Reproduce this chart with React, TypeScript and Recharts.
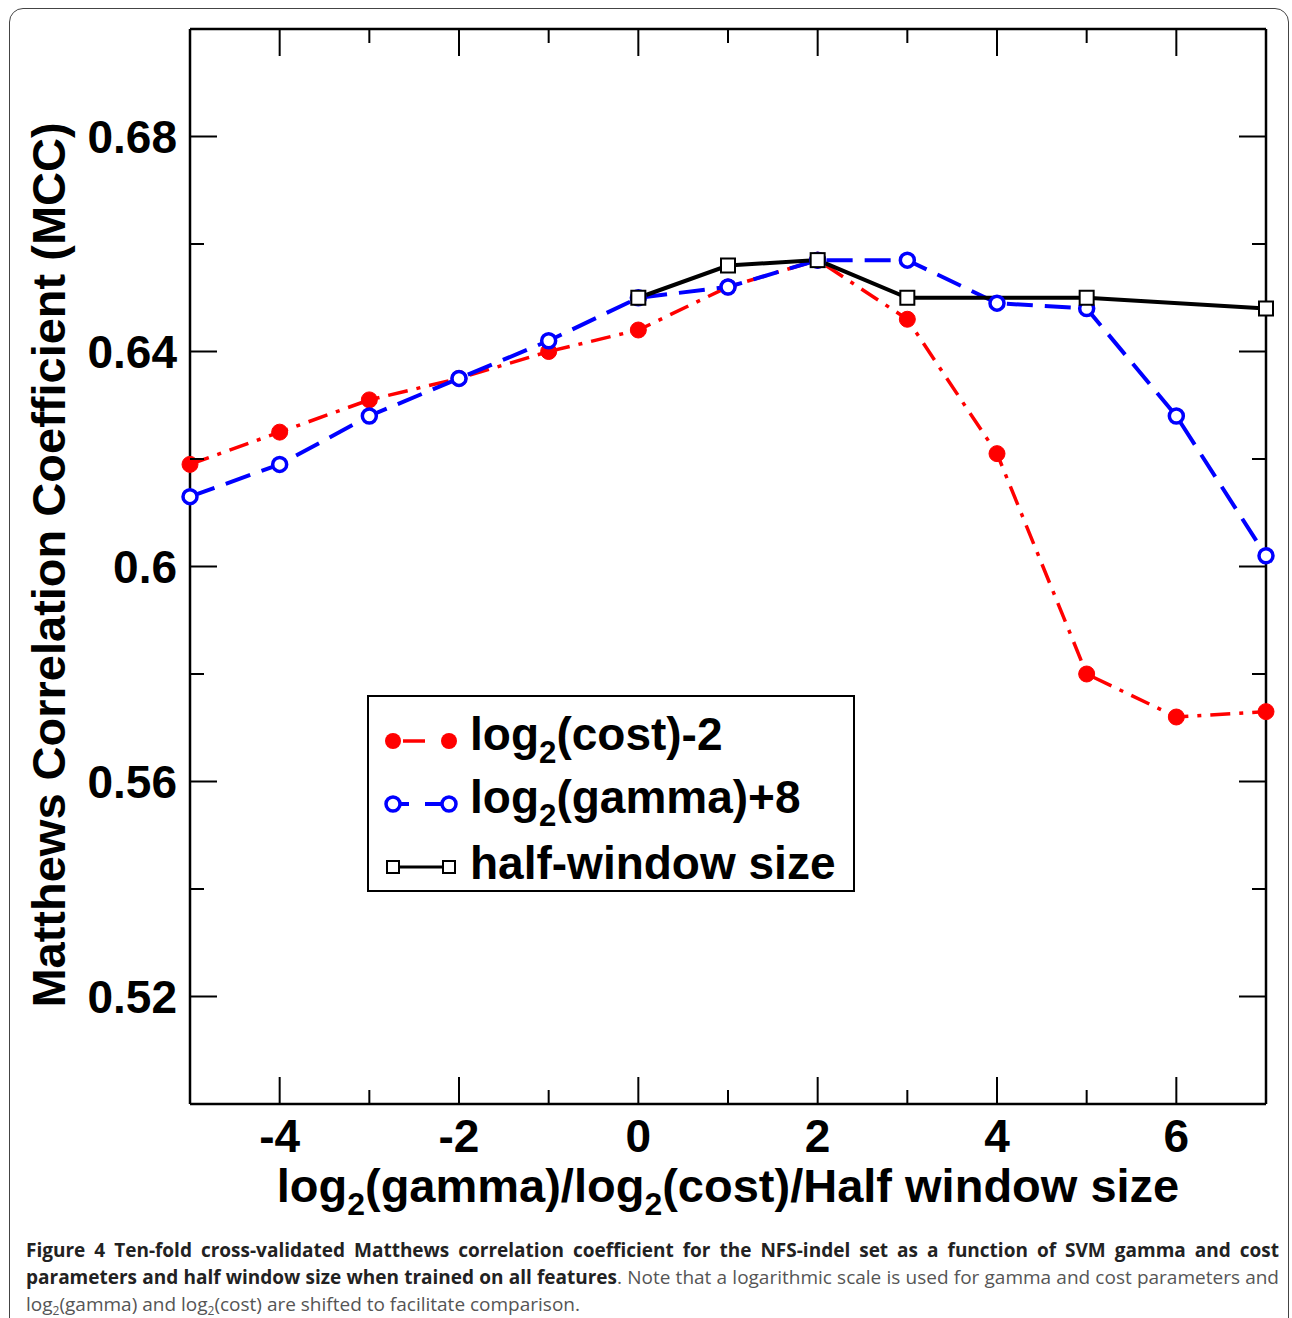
import React from "react";
import { LineChart, Line, XAxis, YAxis, Legend } from "recharts";

/* ── data ── */
const xValues = [-5, -4, -3, -2, -1, 0, 1, 2, 3, 4, 5, 6, 7];
const costMcc = [0.619, 0.625, 0.631, 0.635, 0.64, 0.644, 0.652, 0.657, 0.646, 0.621, 0.58, 0.572, 0.573];
const gammaMcc = [0.613, 0.619, 0.628, 0.635, 0.642, 0.65, 0.652, 0.657, 0.657, 0.649, 0.648, 0.628, 0.602];
const halfWindowMcc = [null, null, null, null, null, 0.65, 0.656, 0.657, 0.65, null, 0.65, null, 0.648];

const xTicks = [-4, -3, -2, -1, 0, 1, 2, 3, 4, 5, 6];
const yTicks = [0.52, 0.54, 0.56, 0.58, 0.6, 0.62, 0.64, 0.66, 0.68];

const data = xValues.map((x, i) => ({
  x,
  cost: costMcc[i],
  gamma: gammaMcc[i],
  half: halfWindowMcc[i],
}));

/* ── look ── */
const RED = "#ff0000";
const BLUE = "#0000ff";
const FONT = '"Liberation Sans", Arial, Helvetica, sans-serif';
const MAJOR = 27;
const MINOR = 14;

const XTick = ({ x, y, payload, top }: any) => {
  const v = payload.value;
  const major = v % 2 === 0;
  const len = major ? MAJOR : MINOR;
  return (
    <g>
      <line x1={x} x2={x} y1={y} y2={top ? y + len : y - len} stroke="#000" strokeWidth={2} />
      {!top && major && (
        <text x={x} y={y + 48} textAnchor="middle" fontFamily={FONT} fontWeight="bold" fontSize={46} fill="#000">
          {v}
        </text>
      )}
    </g>
  );
};

const YTick = ({ x, y, payload, right }: any) => {
  const v = payload.value;
  const major = Math.round(v * 100) % 4 === 0;
  const len = major ? MAJOR : MINOR;
  return (
    <g>
      <line x1={x} x2={right ? x - len : x + len} y1={y} y2={y} stroke="#000" strokeWidth={2} />
      {!right && major && (
        <text x={x - 13} y={y + 16} textAnchor="end" fontFamily={FONT} fontWeight="bold" fontSize={46} fill="#000">
          {Number(v.toFixed(2)).toString()}
        </text>
      )}
    </g>
  );
};

const SquareDot = (p: any) => {
  if (p.cx == null || p.cy == null || p.value == null) return <g key={p.index} />;
  return (
    <rect key={p.index} x={p.cx - 7} y={p.cy - 7} width={14} height={14} fill="#fff" stroke="#000" strokeWidth={2} />
  );
};

const Sub = ({ children }: any) => (
  <span style={{ fontSize: "0.68em", position: "relative", top: "0.42em" }}>{children}</span>
);

const legendRows = [
  { key: "cost", label: <>log<Sub>2</Sub>(cost)-2</> },
  { key: "gamma", label: <>log<Sub>2</Sub>(gamma)+8</> },
  { key: "half", label: <>half-window size</> },
];

const Sample = ({ k }: any) => (
  <svg width={96} height={30} style={{ display: "block" }}>
    {k === "cost" && (
      <>
        <line x1={34} x2={56} y1={15} y2={15} stroke={RED} strokeWidth={3.5} />
        <circle cx={24} cy={15} r={8} fill={RED} />
        <circle cx={80} cy={15} r={8} fill={RED} />
      </>
    )}
    {k === "gamma" && (
      <>
        <line x1={24} x2={40} y1={15} y2={15} stroke={BLUE} strokeWidth={4} />
        <line x1={56} x2={80} y1={15} y2={15} stroke={BLUE} strokeWidth={4} />
        <circle cx={24} cy={15} r={7} fill="#fff" stroke={BLUE} strokeWidth={3.5} />
        <circle cx={80} cy={15} r={7} fill="#fff" stroke={BLUE} strokeWidth={3.5} />
      </>
    )}
    {k === "half" && (
      <>
        <line x1={24} x2={80} y1={15} y2={15} stroke="#000" strokeWidth={3} />
        <rect x={18} y={9} width={12} height={12} fill="#fff" stroke="#000" strokeWidth={2} />
        <rect x={74} y={9} width={12} height={12} fill="#fff" stroke="#000" strokeWidth={2} />
      </>
    )}
  </svg>
);

const LegendBox = () => (
  <div
    style={{
      width: 488,
      height: 197,
      border: "2px solid #000",
      background: "#fff",
      fontFamily: FONT,
      fontWeight: "bold",
      fontSize: 46,
      color: "#000",
      paddingTop: 8,
      boxSizing: "border-box",
    }}
  >
    {legendRows.map((r) => (
      <div key={r.key} style={{ display: "flex", alignItems: "center", height: 63, lineHeight: "46px" }}>
        <div style={{ width: 101, flex: "none", position: "relative", top: 4 }}>
          <Sample k={r.key} />
        </div>
        <div style={{ whiteSpace: "nowrap" }}>{r.label}</div>
      </div>
    ))}
  </div>
);

const CapSub = ({ children }: any) => (
  <span style={{ fontSize: 12, position: "relative", top: 4 }}>{children}</span>
);

export default function App() {
  return (
    <div style={{ position: "absolute", left: 0, top: 0, width: 1292, height: 1318, overflow: "hidden", background: "#fff" }}>
      {/* figure frame */}
      <div
        style={{
          position: "absolute",
          left: 9,
          top: 8,
          width: 1280,
          height: 1360,
          border: "1.5px solid #444",
          borderRadius: 14,
          boxSizing: "border-box",
        }}
      />

      <div style={{ position: "absolute", left: 0, top: 0 }}>
        <LineChart
          width={1292}
          height={1230}
          data={data}
          margin={{ top: 28, right: 25, bottom: 125, left: 189 }}
        >
          <XAxis
            dataKey="x"
            type="number"
            domain={[-5, 7]}
            ticks={xTicks}
            interval={0}
            height={1}
            tickSize={0}
            tickMargin={0}
            tickLine={false}
            axisLine={{ stroke: "#000", strokeWidth: 2.5 }}
            tick={<XTick />}
          />
          <XAxis
            xAxisId="top"
            orientation="top"
            dataKey="x"
            type="number"
            domain={[-5, 7]}
            ticks={xTicks}
            interval={0}
            height={1}
            tickSize={0}
            tickMargin={0}
            tickLine={false}
            axisLine={{ stroke: "#000", strokeWidth: 2.5 }}
            tick={<XTick top />}
          />
          <YAxis
            type="number"
            domain={[0.5, 0.7]}
            ticks={yTicks}
            interval={0}
            width={1}
            tickSize={0}
            tickMargin={0}
            tickLine={false}
            allowDataOverflow
            axisLine={{ stroke: "#000", strokeWidth: 2.5 }}
            tick={<YTick />}
          />
          <YAxis
            yAxisId="right"
            orientation="right"
            type="number"
            domain={[0.5, 0.7]}
            ticks={yTicks}
            interval={0}
            width={1}
            tickSize={0}
            tickMargin={0}
            tickLine={false}
            allowDataOverflow
            axisLine={{ stroke: "#000", strokeWidth: 2.5 }}
            tick={<YTick right />}
          />
          <Legend
            layout="vertical"
            align="center"
            verticalAlign="middle"
            content={<LegendBox />}
            wrapperStyle={{ left: 367, top: 695, width: 488, height: 197, bottom: "auto" }}
          />
          <Line
            dataKey="cost"
            type="linear"
            stroke={RED}
            strokeWidth={3.5}
            strokeDasharray="20 9 4 9"
            dot={{ r: 8, fill: RED, stroke: RED, strokeWidth: 1, strokeDasharray: "" }}
            isAnimationActive={false}
          />
          <Line
            dataKey="gamma"
            type="linear"
            stroke={BLUE}
            strokeWidth={4}
            strokeDasharray="26 12"
            dot={{ r: 7, fill: "#fff", stroke: BLUE, strokeWidth: 3.5, strokeDasharray: "" }}
            isAnimationActive={false}
          />
          <Line
            dataKey="half"
            type="linear"
            stroke="#000"
            strokeWidth={4}
            connectNulls
            dot={<SquareDot />}
            isAnimationActive={false}
          />
        </LineChart>
      </div>

      {/* axis titles */}
      <div
        style={{
          position: "absolute",
          left: 48,
          top: 565,
          transform: "translate(-50%, -50%) rotate(-90deg)",
          whiteSpace: "nowrap",
          fontFamily: FONT,
          fontWeight: "bold",
          fontSize: 47,
          lineHeight: "47px",
        }}
      >
        Matthews Correlation Coefficient (MCC)
      </div>
      <div
        style={{
          position: "absolute",
          left: 190,
          width: 1076,
          top: 1162,
          textAlign: "center",
          whiteSpace: "nowrap",
          fontFamily: FONT,
          fontWeight: "bold",
          fontSize: 47,
          lineHeight: "47px",
        }}
      >
        log<Sub>2</Sub>(gamma)/log<Sub>2</Sub>(cost)/Half window size
      </div>

      {/* caption */}
      <div
        style={{
          position: "absolute",
          left: 26,
          top: 1237,
          width: 1253,
          fontFamily: '"Open Sans", sans-serif',
          fontSize: 19,
          lineHeight: "27px",
          color: "#555",
          textAlign: "justify",
        }}
      >
        <span style={{ fontWeight: "bold", color: "#222" }}>
          Figure 4 Ten-fold cross-validated Matthews correlation coefficient for the NFS-indel set as a function of SVM gamma
          and cost parameters and half window size when trained on all features
        </span>
        . Note that a logarithmic scale is used for gamma and cost parameters and log<CapSub>2</CapSub>(gamma) and log
        <CapSub>2</CapSub>(cost) are shifted to facilitate comparison.
      </div>
    </div>
  );
}
